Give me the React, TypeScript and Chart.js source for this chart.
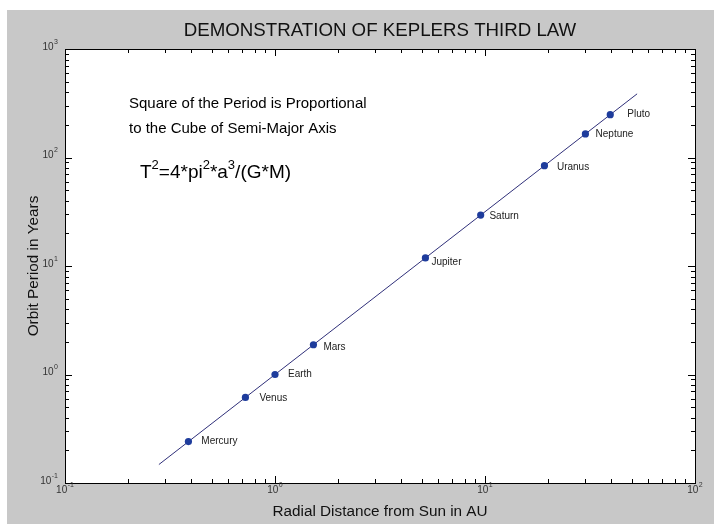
import React, { useEffect, useRef } from "react";
import { Chart, registerables } from "chart.js";

Chart.register(...registerables);

// ---------------- data ----------------
const planets = ["Mercury", "Venus", "Earth", "Mars", "Jupiter", "Saturn", "Uranus", "Neptune", "Pluto"];
const semiMajorAU = [0.387, 0.723, 1.0, 1.524, 5.203, 9.537, 19.19, 30.07, 39.48];
const periodYears = [0.241, 0.615, 1.0, 1.881, 11.86, 29.46, 84.01, 164.8, 248.1];
// label anchors (data units), like MATLAB text(x, y, name)
const labelAU = [0.446, 0.843, 1.153, 1.7, 5.56, 10.5, 22.0, 33.6, 47.6];
const labelYears = [0.241, 0.6, 1.0, 1.8, 10.9, 28.8, 81.4, 164.8, 248.1];
// fitted line end points
const fitAU = [0.28, 53];
const fitYears = [0.148, 386];
// axis ticks
const xTickValues = [0.1, 1, 10, 100];
const xTickExps = ["-1", "0", "1", "2"];
const yTickValues = [0.1, 1, 10, 100, 1000];
const yTickExps = ["-1", "0", "1", "2", "3"];

const TITLE = "DEMONSTRATION OF KEPLERS THIRD LAW";
const XTITLE = "Radial Distance from Sun in AU";
const YTITLE = "Orbit Period in Years";
const NOTE1 = "Square of the Period is Proportional";
const NOTE2 = "to the Cube of Semi-Major Axis";

// ---------------- style ----------------
const W = 721;
const H = 524;
const FONT = '"Liberation Sans", Arial, Helvetica, sans-serif';
const GRAY = "#c8c8c8";
const LINE = "#30307a";
const DOT = "#1e3c9c";

const bgPlugin = {
  id: "bg",
  beforeDraw(chart: any) {
    const { ctx, chartArea: a } = chart;
    ctx.save();
    ctx.fillStyle = "#ffffff";
    ctx.fillRect(0, 0, W, H);
    ctx.fillStyle = GRAY;
    ctx.fillRect(7, 10, 714 - 7, H - 10);
    ctx.fillStyle = "#ffffff";
    ctx.fillRect(a.left, a.top, a.right - a.left, a.bottom - a.top);
    ctx.restore();
  },
};

function drawPow(ctx: CanvasRenderingContext2D, exp: string, x: number, y: number, mode: "right" | "center") {
  ctx.font = `10px ${FONT}`;
  const wb = ctx.measureText("10").width;
  ctx.font = `7px ${FONT}`;
  const we = ctx.measureText(exp).width;
  const total = wb + we + 0.5;
  const start = mode === "right" ? x - total : x - total / 2;
  ctx.textAlign = "left";
  ctx.textBaseline = "middle";
  ctx.font = `10px ${FONT}`;
  ctx.fillText("10", start, y);
  ctx.font = `7px ${FONT}`;
  ctx.fillText(exp, start + wb + 0.5, y - 5);
}

const decoPlugin = {
  id: "deco",
  afterDraw(chart: any) {
    const { ctx, chartArea: a, scales } = chart;
    const xs = scales.x;
    const ys = scales.y;
    ctx.save();

    // axes box
    ctx.strokeStyle = "#000";
    ctx.lineWidth = 1;
    ctx.strokeRect(Math.round(a.left) + 0.5, Math.round(a.top) + 0.5, Math.round(a.right - a.left), Math.round(a.bottom - a.top));

    // tick marks (inside, all four sides)
    const major = 7;
    const minor = 4;
    ctx.beginPath();
    for (let d = -1; d <= 1; d++) {
      for (let k = 1; k <= 10; k++) {
        const v = k * Math.pow(10, d);
        const px = Math.round(xs.getPixelForValue(v)) + 0.5;
        const len = k === 1 || k === 10 ? major : minor;
        ctx.moveTo(px, a.bottom);
        ctx.lineTo(px, a.bottom - len);
        ctx.moveTo(px, a.top);
        ctx.lineTo(px, a.top + len);
      }
    }
    for (let d = -1; d <= 2; d++) {
      for (let k = 1; k <= 10; k++) {
        const v = k * Math.pow(10, d);
        const py = Math.round(ys.getPixelForValue(v)) + 0.5;
        const len = k === 1 || k === 10 ? major : minor;
        ctx.moveTo(a.left, py);
        ctx.lineTo(a.left + len, py);
        ctx.moveTo(a.right, py);
        ctx.lineTo(a.right - len, py);
      }
    }
    ctx.stroke();

    // tick labels
    ctx.fillStyle = "#333";
    xTickValues.forEach((v, i) => {
      drawPow(ctx, xTickExps[i], xs.getPixelForValue(v), a.bottom + 7, "center");
    });
    yTickValues.forEach((v, i) => {
      drawPow(ctx, yTickExps[i], a.left - 7, ys.getPixelForValue(v) - 2, "right");
    });

    // titles
    ctx.fillStyle = "#111";
    ctx.textAlign = "center";
    ctx.textBaseline = "middle";
    const cx = (a.left + a.right) / 2;
    ctx.font = `18.7px ${FONT}`;
    ctx.fillText(TITLE, cx, 31);
    ctx.font = `15.3px ${FONT}`;
    ctx.fillText(XTITLE, cx, 512);
    ctx.save();
    ctx.translate(34, (a.top + a.bottom) / 2);
    ctx.rotate(-Math.PI / 2);
    ctx.fillText(YTITLE, 0, 0);
    ctx.restore();

    // annotation
    ctx.fillStyle = "#000";
    ctx.textAlign = "left";
    ctx.font = `15px ${FONT}`;
    ctx.fillText(NOTE1, 129, 104);
    ctx.fillText(NOTE2, 129, 129);

    // formula T^2=4*pi^2*a^3/(G*M)
    const parts: [string, boolean][] = [
      ["T", false], ["2", true], ["=4*pi", false], ["2", true], ["*a", false], ["3", true], ["/(G*M)", false],
    ];
    let fx = 140;
    const fy = 173;
    parts.forEach(([t, sup]) => {
      ctx.font = sup ? `13px ${FONT}` : `19px ${FONT}`;
      ctx.fillText(t, fx, sup ? fy - 8 : fy);
      fx += ctx.measureText(t).width;
    });

    // planet labels
    ctx.fillStyle = "#222";
    ctx.font = `10px ${FONT}`;
    planets.forEach((name, i) => {
      ctx.fillText(name, xs.getPixelForValue(labelAU[i]), ys.getPixelForValue(labelYears[i]));
    });

    ctx.restore();
  },
};

export default function App() {
  const ref = useRef<HTMLCanvasElement>(null);
  useEffect(() => {
    document.body.style.margin = "0";
    const canvas = ref.current!;
    const chart = new Chart(canvas, {
      type: "scatter",
      data: {
        datasets: [
          {
            type: "line",
            data: fitAU.map((x, i) => ({ x, y: fitYears[i] })),
            borderColor: LINE,
            borderWidth: 1,
            pointRadius: 0,
            fill: false,
            order: 2,
          } as any,
          {
            type: "scatter",
            data: semiMajorAU.map((x, i) => ({ x, y: periodYears[i] })),
            backgroundColor: DOT,
            borderColor: DOT,
            borderWidth: 0,
            pointRadius: 3.6,
            order: 1,
          },
        ],
      },
      options: {
        responsive: false,
        animation: false,
        devicePixelRatio: 1,
        layout: { padding: { left: 65, top: 49, right: W - 695, bottom: H - 483 } },
        plugins: {
          legend: { display: false },
          tooltip: { enabled: false },
          title: { display: false },
        },
        scales: {
          x: { type: "logarithmic", min: 0.1, max: 100, display: false },
          y: { type: "logarithmic", min: 0.1, max: 1000, display: false },
        },
      },
      plugins: [bgPlugin, decoPlugin],
    });
    return () => chart.destroy();
  }, []);
  return <canvas ref={ref} width={W} height={H} style={{ display: "block" }} />;
}
